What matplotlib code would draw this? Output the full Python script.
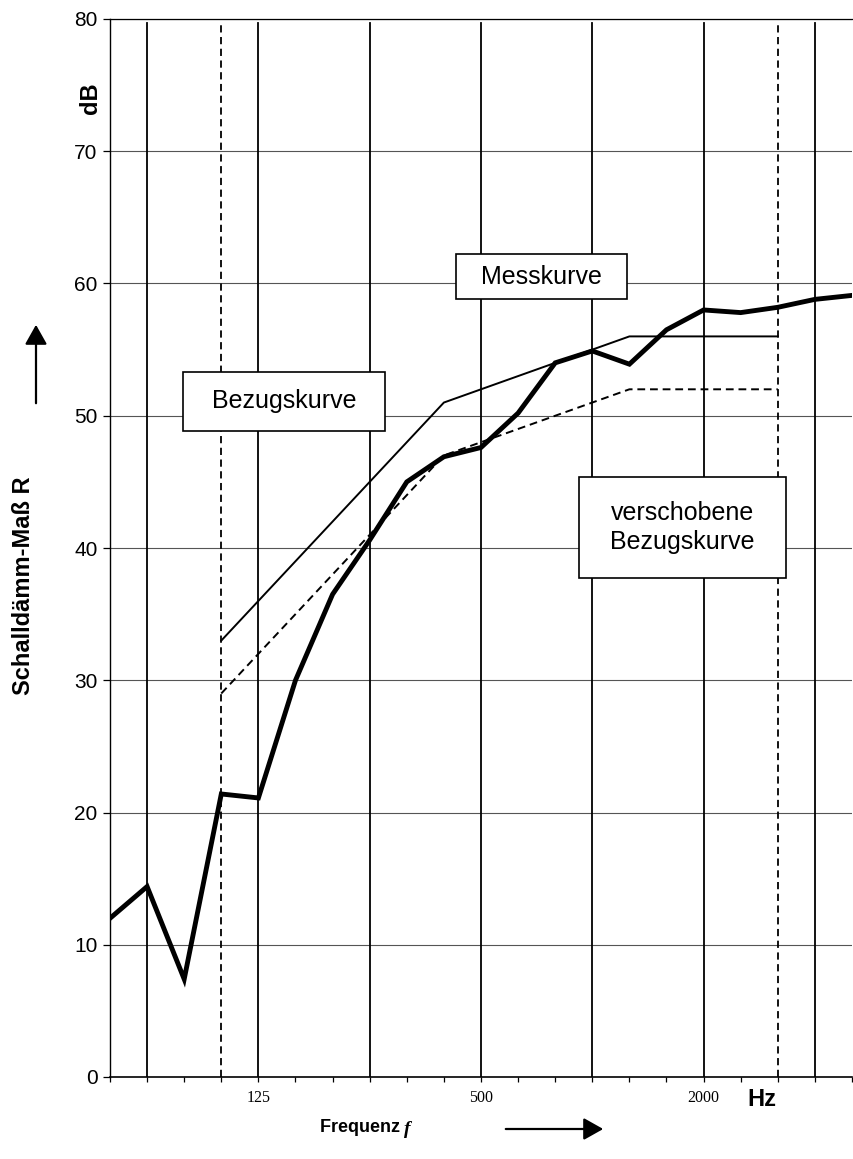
import numpy as np
import matplotlib
matplotlib.use("Agg")
import matplotlib.pyplot as plt
from matplotlib.patches import Rectangle, FancyArrowPatch

# third-octave band centre frequencies (Hz)
freqs = [50, 63, 80, 100, 125, 160, 200, 250, 315, 400, 500,
         630, 800, 1000, 1250, 1600, 2000, 2500, 3150, 4000, 5000]
# measured sound reduction index R (dB)
messkurve = [12.0, 14.4, 7.4, 21.4, 21.1, 30.0, 36.5, 40.6, 45.0, 46.9, 47.6,
             50.2, 54.0, 54.9, 53.9, 56.5, 58.0, 57.8, 58.2, 58.8, 59.1]
# reference curve (100 - 3150 Hz)
ref_freqs = [100, 125, 160, 200, 250, 315, 400, 500,
             630, 800, 1000, 1250, 1600, 2000, 2500, 3150]
bezugskurve = [33, 36, 39, 42, 45, 48, 51, 52, 53, 54, 55, 56, 56, 56, 56, 56]
shift = -4
octave_lines = [63, 125, 250, 500, 1000, 2000, 4000]
range_lines = [100, 3150]
label_freqs = [125, 500, 2000]
y_ticks = [0, 10, 20, 30, 40, 50, 60, 70, 80]

W, H = 854, 1159
plt.rcParams['font.family'] = ['Liberation Sans', 'DejaVu Sans']

fig = plt.figure(figsize=(W / 100, H / 100), dpi=100)
ax = fig.add_axes([110 / W, 82 / H, 742 / W, 1058 / H])

x = np.arange(len(freqs))
xr = np.array([freqs.index(f) for f in ref_freqs])
ref = np.array(bezugskurve)

# grid
for yv in y_ticks[1:]:
    ax.axhline(yv, color='#555555', lw=0.8, zorder=1)
for f in octave_lines:
    ax.axvline(freqs.index(f), ymax=0.996, color='black', lw=1.3, zorder=1)
for f in range_lines:
    ax.axvline(freqs.index(f), ymax=0.996, color='black', lw=1.3,
               ls=(0, (4, 2.5)), zorder=1)

ax.plot(xr, ref, color='black', lw=1.4, zorder=3)
ax.plot(xr, ref + shift, color='black', lw=1.4, ls=(0, (4, 2.5)), zorder=3)
ax.plot(x, messkurve, color='black', lw=3.5, zorder=4, solid_joinstyle='miter')

ax.set_xlim(0, len(freqs) - 1)
ax.set_ylim(0, 80)
ax.set_yticks(y_ticks)
ax.set_yticklabels([str(v) for v in y_ticks], fontsize=15)
ax.set_xticks(x)
ax.set_xticklabels([str(f) if f in label_freqs else '' for f in freqs],
                   family='Liberation Serif', fontsize=11.5)
ax.tick_params(axis='y', direction='out', length=5, width=0.9, pad=4)
ax.tick_params(axis='x', direction='out', length=3.5, width=0.9, pad=6)
ax.spines['right'].set_visible(False)
ax.spines['top'].set_linewidth(0.9)
ax.spines['left'].set_linewidth(1.0)
ax.spines['bottom'].set_linewidth(1.2)


def px(xp, yp):
    return xp / W, 1 - yp / H


def box(x0, y0, x1, y1, txt):
    fx, fy = px(x0, y1)
    fig.add_artist(Rectangle((fx, fy), (x1 - x0) / W, (y1 - y0) / H,
                             transform=fig.transFigure, facecolor='white',
                             edgecolor='black', lw=1.2, zorder=5))
    cx, cy = px((x0 + x1) / 2, (y0 + y1) / 2)
    fig.text(cx, cy, txt, ha='center', va='center', fontsize=18,
             linespacing=1.25, zorder=6)


box(456, 254, 627, 299, 'Messkurve')
box(183, 372, 385, 431, 'Bezugskurve')
box(579, 477, 786, 578, 'verschobene\nBezugskurve')

# axis labels
fig.text(*px(24, 586), 'Schalldämm-Maß R', rotation=90, ha='center',
         va='center', fontsize=17, fontweight='bold')
fig.text(*px(90, 98), 'dB', rotation=90, ha='center', va='center',
         fontsize=17, fontweight='bold')
fig.text(*px(762, 1099), 'Hz', ha='center', va='center', fontsize=17,
         fontweight='bold')
fig.text(*px(320, 1127), 'Frequenz ', ha='left', va='center', fontsize=13,
         fontweight='bold')
fig.text(*px(404, 1129), 'f', ha='left', va='center', fontsize=14,
         family='Liberation Serif', style='italic', fontweight='bold')

fig.add_artist(FancyArrowPatch(
    px(36, 406), px(36, 322), transform=fig.transFigure,
    arrowstyle='-|>,head_length=8,head_width=4.5', color='black', lw=1.6,
    mutation_scale=1.5))
fig.add_artist(FancyArrowPatch(
    px(503, 1129), px(606, 1129), transform=fig.transFigure,
    arrowstyle='-|>,head_length=8,head_width=4.5', color='black', lw=1.6,
    mutation_scale=1.5))

fig.savefig('out.png', dpi=100)
